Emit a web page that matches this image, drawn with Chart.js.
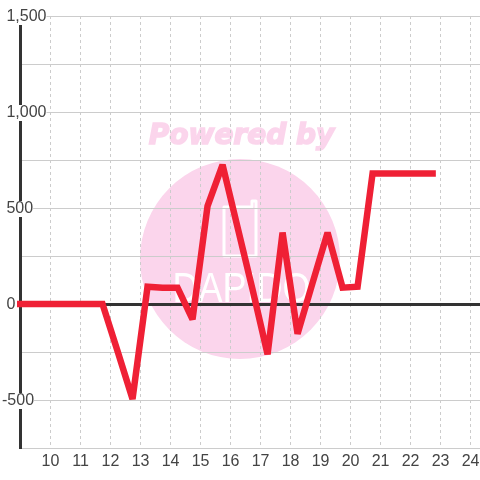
<!DOCTYPE html>
<html>
<head>
<meta charset="utf-8">
<style>
  html, body { margin: 0; padding: 0; background: #fff; }
  canvas { display: block; }
</style>
<script src="https://cdn.jsdelivr.net/npm/chart.js@4"></script>
</head>
<body>
<canvas id="chart" width="480" height="480"></canvas>
<script>
const hours = [8.75, 9.25, 9.75, 10.25, 10.75, 11.25, 11.75, 12.25, 12.75, 13.25, 13.75, 14.25, 14.75, 15.25, 15.75, 16.25, 16.75, 17.25, 17.75, 18.25, 18.75, 19.25, 19.75, 20.25, 20.75, 21.25, 21.75, 22.25, 22.75];
const values = [0, 0, 0, 0, 0, 0, 0, -245, -495, 90, 85, 85, -80, 510, 725, 400, 75, -262, 372, -155, 110, 372, 85, 90, 680, 680, 680, 680, 680];
const xTicks = [10, 11, 12, 13, 14, 15, 16, 17, 18, 19, 20, 21, 22, 23, 24];
const yTicks = [-750, -500, -250, 0, 250, 500, 750, 1000, 1250, 1500];

const labelFont = { family: '"Liberation Sans", Arial, sans-serif', size: 16, lineHeight: 1 };

// Filigran: Kreis und Schriftzug hinter dem Gitter
const watermark = {
  id: 'watermark',
  beforeDraw(chart) {
    const c = chart.ctx;
    c.save();
    c.fillStyle = '#fbd5ec';
    c.strokeStyle = '#fbd5ec';
    c.beginPath();
    c.arc(240, 259, 100, 0, Math.PI * 2);
    c.fill();

    c.font = 'italic bold 28px "DejaVu Sans"';
    c.textAlign = 'center';
    c.textBaseline = 'middle';
    c.lineWidth = 1.5;
    c.fillText('Powered by', 241.5, 137);
    c.strokeText('Powered by', 241.5, 137);

    c.strokeStyle = '#fff';
    c.fillStyle = '#fff';
    c.lineWidth = 3;
    c.lineJoin = 'round';
    c.beginPath();
    c.moveTo(247, 207);
    c.lineTo(252, 207);
    c.lineTo(252, 201);
    c.lineTo(256, 201);
    c.lineTo(256, 256);
    c.lineTo(224, 256);
    c.lineTo(224, 207);
    c.closePath();
    c.stroke();

    c.translate(241.5, 290);
    c.scale(1, 1.2);
    c.font = '36px "Liberation Sans"';
    c.fillText('DAPIDO', 0, 0);
    c.restore();
  },
  // spitze Ecken der Linie abschneiden, flache bleiben scharf
  beforeDatasetsDraw(chart) {
    chart.ctx.miterLimit = 2;
  },
  afterDatasetsDraw(chart) {
    chart.ctx.miterLimit = 10;
  }
};

new Chart(document.getElementById('chart'), {
  type: 'line',
  data: {
    datasets: [{
      data: hours.map((h, i) => ({ x: h, y: values[i] })),
      borderColor: '#ef2035',
      borderWidth: 6.5,
      borderJoinStyle: 'miter',
      borderCapStyle: 'square',
      pointRadius: 0,
      tension: 0,
      clip: 3
    }]
  },
  options: {
    responsive: false,
    animation: false,
    layout: { padding: { top: 16 } },
    plugins: { legend: { display: false }, tooltip: { enabled: false } },
    scales: {
      x: {
        type: 'linear',
        min: 9,
        max: 24.33,
        afterBuildTicks: s => { s.ticks = xTicks.map(v => ({ value: v })); },
        afterFit: s => { s.height = 32; s.paddingRight = 0; s.paddingLeft = 0; },
        grid: { color: '#ccc', lineWidth: 1, drawTicks: false },
        border: { display: false, dash: [3, 3] },
        ticks: { autoSkip: false, maxRotation: 0, padding: 6, labelOffset: 0.5, color: '#444', font: labelFont }
      },
      y: {
        min: -750,
        max: 1500,
        afterBuildTicks: s => { s.ticks = yTicks.map(v => ({ value: v })); },
        afterFit: s => { s.width = 20; s.paddingTop = 0; s.paddingBottom = 0; },
        grid: {
          drawTicks: false,
          color: ctx => ctx.tick.value === 0 ? '#333' : '#ccc',
          lineWidth: ctx => ctx.tick.value === 0 ? 3 : 1
        },
        border: { color: '#333', width: 3 },
        ticks: {
          mirror: true,
          padding: -18,
          labelOffset: 1,
          color: '#444',
          font: labelFont,
          showLabelBackdrop: true,
          backdropColor: '#fff',
          backdropPadding: 0,
          callback: v => {
            if (v % 500 !== 0) return '';
            return (v < 0 ? '' : ' ') + v.toLocaleString('en-US');
          }
        }
      }
    }
  },
  plugins: [watermark]
});
</script>
</body>
</html>
